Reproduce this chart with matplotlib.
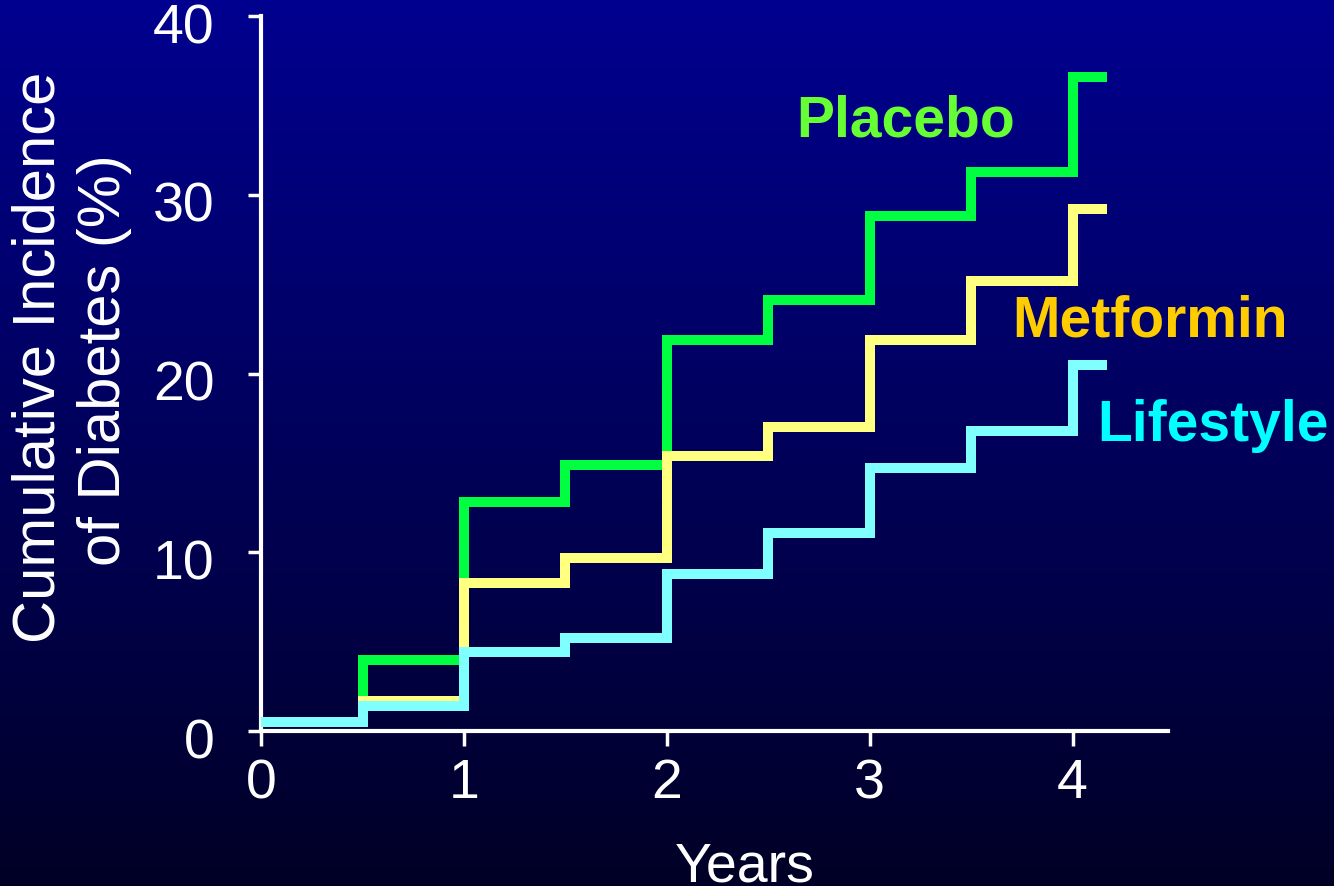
import numpy as np
import matplotlib
matplotlib.use("Agg")
import matplotlib.pyplot as plt
from matplotlib.transforms import ScaledTranslation

# visit times (years) and cumulative incidence (%) per arm
years = [0, 0.5, 1, 1.5, 2, 2.5, 3, 3.5, 4, 4.17]
placebo = [0.5, 4.0, 12.8, 14.9, 21.9, 24.1, 28.8, 31.3, 36.6, 36.6]
metformin = [0.5, 1.7, 8.3, 9.7, 15.4, 17.0, 21.9, 25.2, 29.2, 29.2]
lifestyle = [0.5, 1.4, 4.4, 5.2, 8.8, 11.1, 14.7, 16.8, 20.5, 20.5]

arm_names = ["Placebo", "Metformin", "Lifestyle"]
line_colors = ["#00ff40", "#ffff80", "#80ffff"]
label_colors = ["#66ff33", "#ffcc00", "#00ffff"]

plt.rcParams["font.family"] = ["Liberation Sans", "DejaVu Sans"]

fig = plt.figure(figsize=(13.34, 8.87), dpi=100)

# navy-to-black backdrop
bg = fig.add_axes([0, 0, 1, 1], zorder=0)
grad = np.linspace(0, 1, 256)[:, None]
top = np.array([0, 0, 0x90]) / 255
bottom = np.array([0, 0, 0x26]) / 255
img = top[None, None, :] * (1 - grad[..., None]) + bottom[None, None, :] * grad[..., None]
bg.imshow(np.repeat(img, 2, axis=1), aspect="auto", extent=[0, 1, 0, 1])
bg.set_axis_off()

ax = fig.add_axes([0.1957, 0.1747, 0.6799, 0.8061], zorder=1)
ax.set_facecolor("none")

for i, vals in enumerate([placebo, metformin, lifestyle]):
    ax.plot(years, vals, drawstyle="steps-post", color=line_colors[i], lw=7.2,
            solid_joinstyle="miter", solid_capstyle="butt", zorder=2 + i)

ax.set_xlim(0, 4.47)
ax.set_ylim(0, 40)
ax.set_xticks([0, 1, 2, 3, 4])
ax.set_yticks([0, 10, 20, 30, 40])

for side in ["top", "right"]:
    ax.spines[side].set_visible(False)
for side in ["left", "bottom"]:
    ax.spines[side].set_color("white")
    ax.spines[side].set_linewidth(3)

ax.tick_params(axis="y", colors="white", labelsize=40, length=9.5, width=2.5, pad=24)
ax.tick_params(axis="x", colors="white", labelsize=40, length=11, width=2.5, pad=8)
for lab in ax.get_yticklabels():
    lab.set_transform(lab.get_transform() + ScaledTranslation(0, -6 / 100, fig.dpi_scale_trans))

# series names beside the curves
label_pos = [(2.64, 33.3), (3.70, 22.1), (4.12, 16.3)]
for name, col, (x, y) in zip(arm_names, label_colors, label_pos):
    ax.text(x, y, name, color=col, fontsize=41, fontweight="bold",
            ha="left", va="baseline", clip_on=False)

# axis titles
narrow = ["Liberation Sans Narrow", "Liberation Sans", "DejaVu Sans"]
fig.text(55 / 1334, 1 - 357 / 887, "Cumulative Incidence", color="white", fontsize=43,
         family=narrow, rotation=90, rotation_mode="anchor", ha="center", va="baseline")
fig.text(120 / 1334, 1 - 360 / 887, "of Diabetes (%)", color="white", fontsize=43,
         family=narrow, rotation=90, rotation_mode="anchor", ha="center", va="baseline")
fig.text(745 / 1334, 5 / 887, "Years", color="white", fontsize=40,
         ha="center", va="baseline")

fig.savefig("out.png", dpi=100)
